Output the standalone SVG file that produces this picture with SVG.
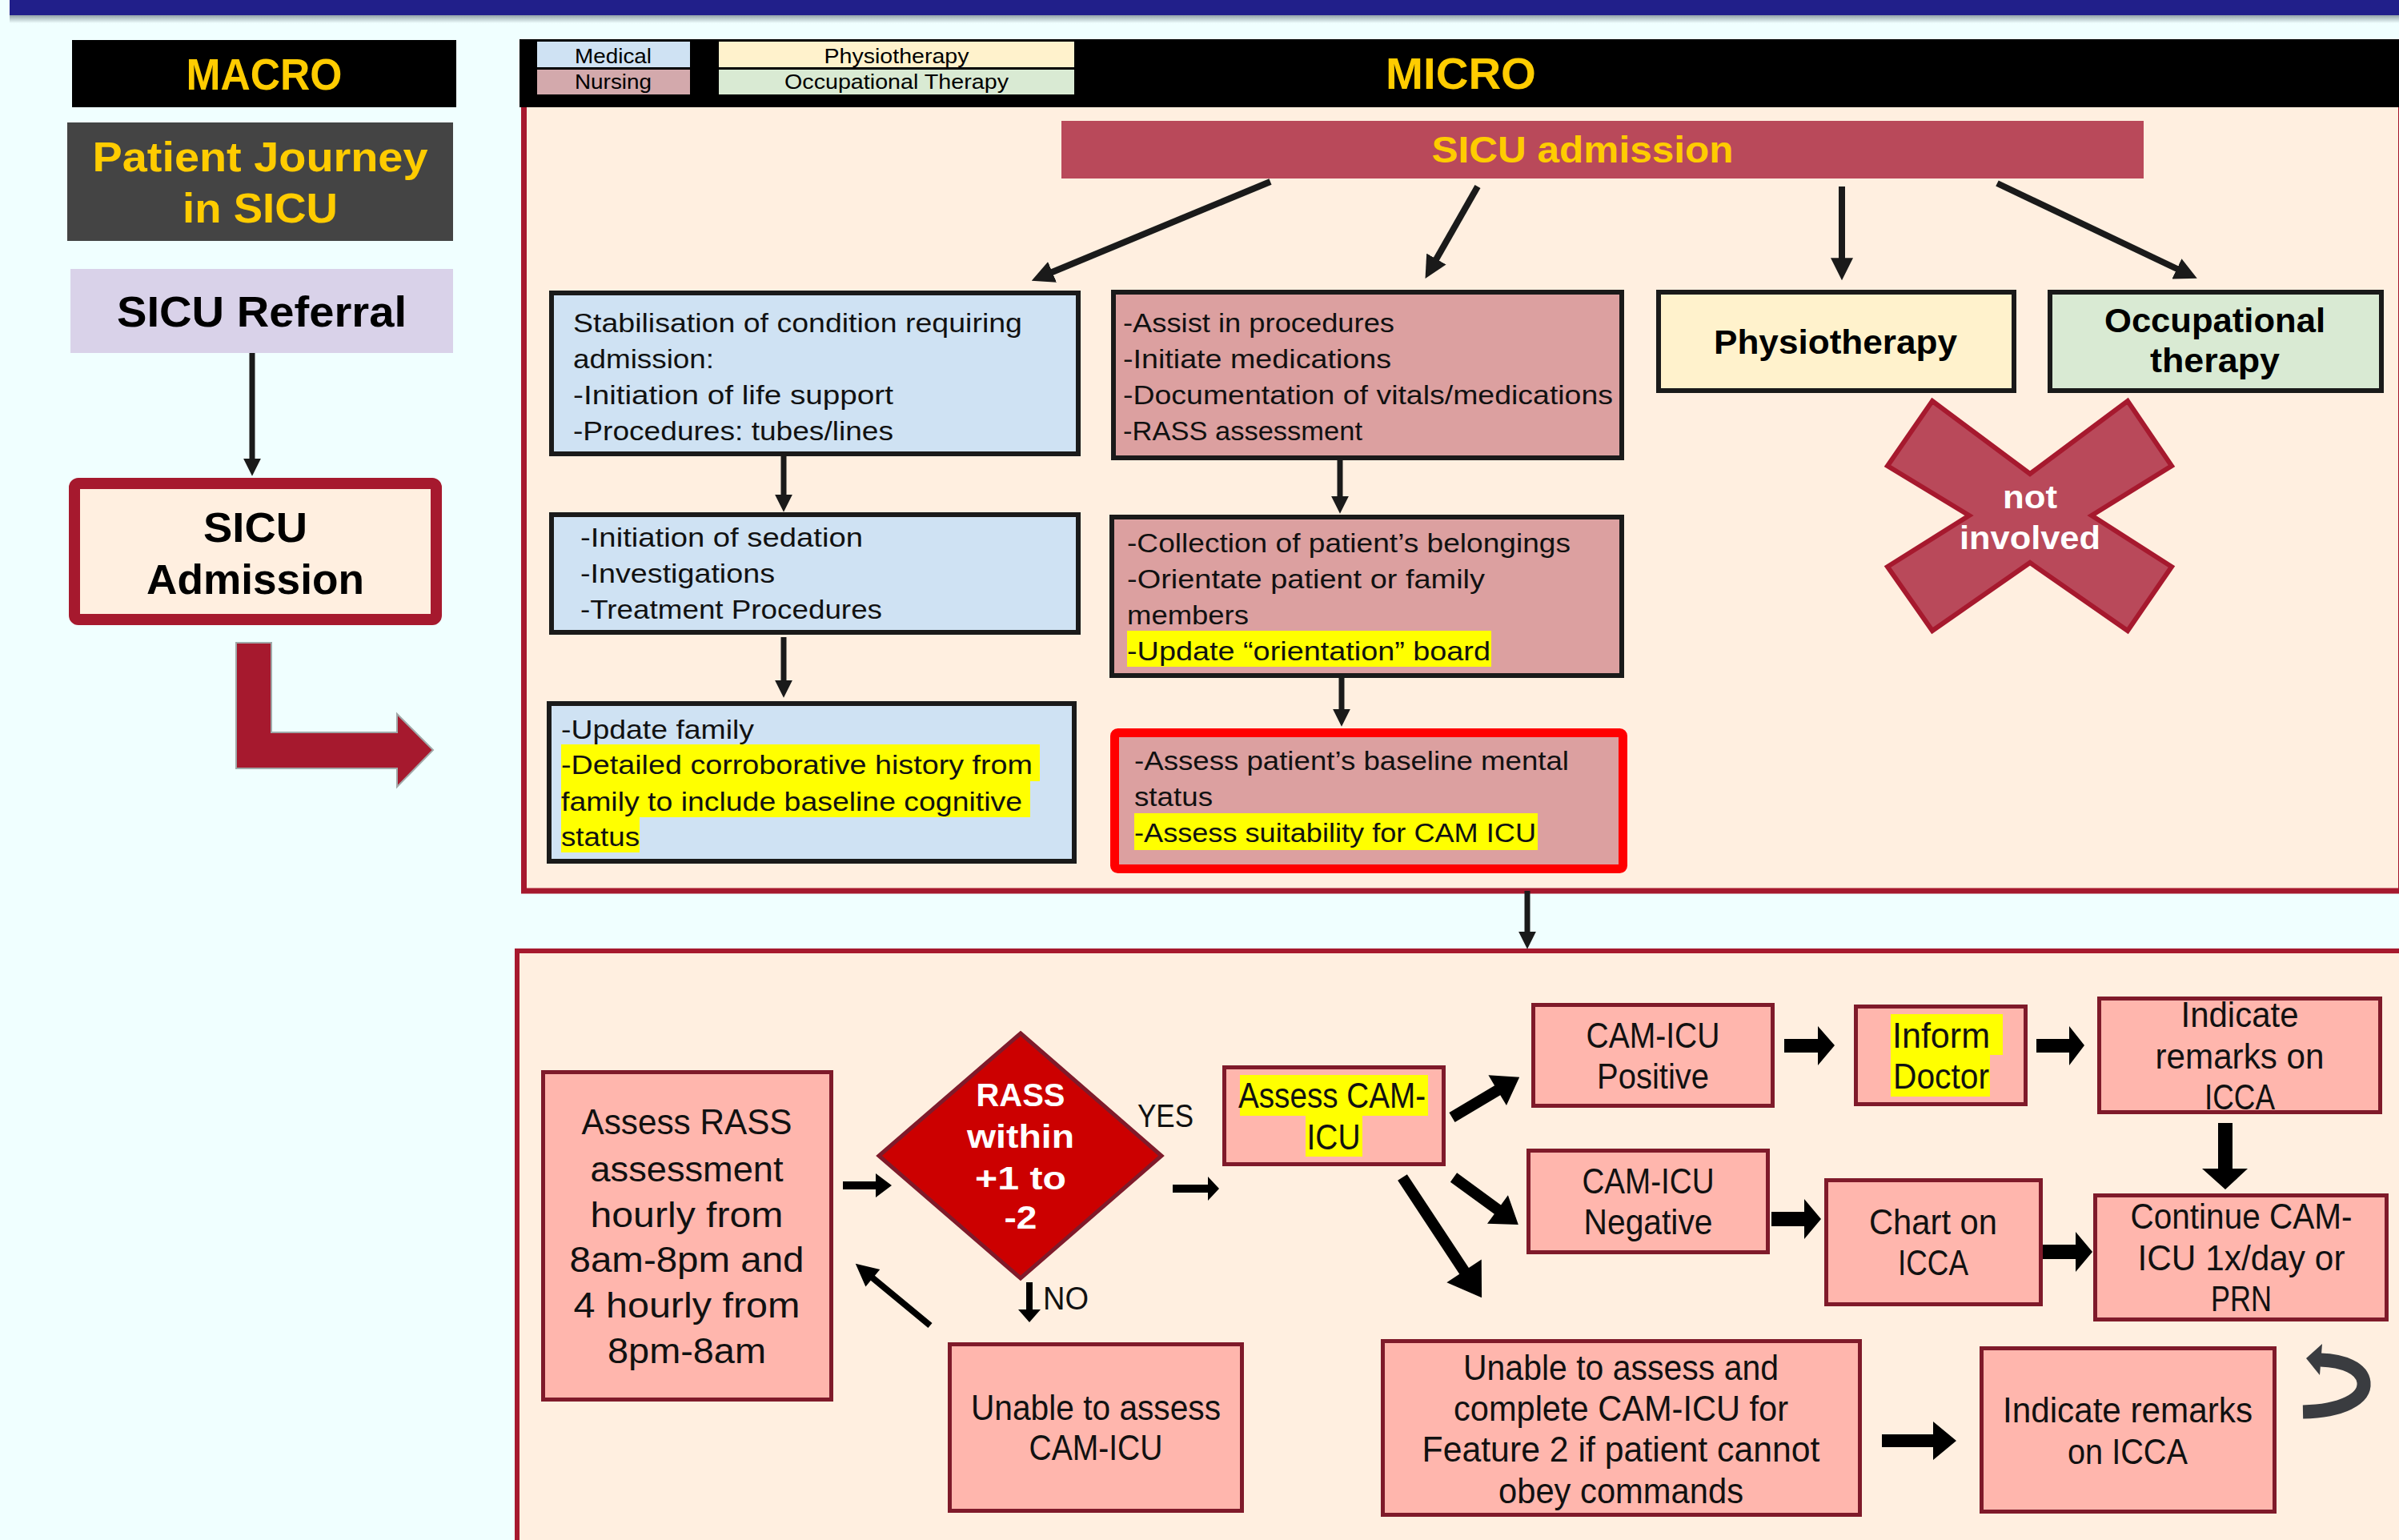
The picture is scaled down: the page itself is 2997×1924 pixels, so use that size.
<svg xmlns="http://www.w3.org/2000/svg" width="2997" height="1924" viewBox="0 0 2997 1924">
<defs>
<linearGradient id="shadow" x1="0" y1="0" x2="0" y2="1">
<stop offset="0" stop-color="#7f8f95"/>
<stop offset="1" stop-color="#F0FFFF"/>
</linearGradient>
<marker id="ah" viewBox="0 0 10 10" refX="1" refY="5" markerWidth="22" markerHeight="22" markerUnits="userSpaceOnUse" orient="auto">
<path d="M0,0 L10,5 L0,10 z" fill="#1a1a1a"/>
</marker>
<marker id="ahb" viewBox="0 0 10 10" refX="1" refY="5" markerWidth="28" markerHeight="28" markerUnits="userSpaceOnUse" orient="auto">
<path d="M0,0 L10,5 L0,10 z" fill="#1a1a1a"/>
</marker>
<style>
text{font-family:"Liberation Sans",Arial,sans-serif}
.b{font-weight:bold}
.gold{fill:#FFCC00}
.w{fill:#ffffff}
.k{fill:#111111}
.s25{font-size:25px}
.s33{font-size:33px}
.s45{font-size:45px}
.s40{font-size:40px}
.m{text-anchor:middle}
.med{fill:#CFE2F3;stroke:#1a1a1a;stroke-width:6}
.nur{fill:#DCA0A0;stroke:#1a1a1a;stroke-width:6}
.lo{fill:#FFB6AD;stroke:#7F1A2A;stroke-width:5}
.hl{fill:#FFFF00}
.ln{stroke:#1a1a1a;stroke-width:7;fill:none}
.lnb{stroke:#1a1a1a;stroke-width:8;fill:none}
.blk{fill:#000000}
</style>
</defs>

<rect x="0" y="0" width="2997" height="1924" fill="#F0FFFF"/>
<rect x="12" y="17" width="2985" height="12" fill="url(#shadow)"/>
<rect x="12" y="0" width="2985" height="19" fill="#211F8A"/>

<!-- MACRO column -->
<g id="macro-header">
<rect x="90" y="50" width="480" height="84" fill="#000"/>
<text x="330" y="112" class="b gold m" font-size="56" textLength="195" lengthAdjust="spacingAndGlyphs">MACRO</text>
</g>
<g id="patient-journey">
<rect x="84" y="153" width="482" height="148" fill="#444444"/>
<text x="325" y="214" class="b gold m" font-size="52" textLength="419" lengthAdjust="spacingAndGlyphs">Patient Journey</text>
<text x="325" y="278" class="b gold m" font-size="52" textLength="194" lengthAdjust="spacingAndGlyphs">in SICU</text>
</g>
<g id="sicu-referral">
<rect x="88" y="336" width="478" height="105" fill="#D9D2E9"/>
<text x="327" y="408" class="b m" font-size="53" fill="#000" textLength="362" lengthAdjust="spacingAndGlyphs">SICU Referral</text>
</g>
<g id="sicu-admission-macro">
<rect x="93" y="604" width="452" height="170" rx="5" fill="#FFEFE0" stroke="#A6192E" stroke-width="14"/>
<text x="319" y="677" class="b m" font-size="51" fill="#000" textLength="130" lengthAdjust="spacingAndGlyphs">SICU</text>
<text x="319" y="742" class="b m" font-size="51" fill="#000" textLength="272" lengthAdjust="spacingAndGlyphs">Admission</text>
</g>
<g id="bent-arrow">
<polygon points="295,803 339,803 339,915 496,915 496,892 541,937 496,983 496,960 295,960" fill="#A6192E" stroke="#a0a8a8" stroke-width="2"/>
</g>

<!-- MICRO panel -->
<g id="micro-panel">
<rect x="654.5" y="130" width="2345" height="983" fill="#FFEFE0" stroke="#A6192E" stroke-width="7"/>
<rect x="649" y="49" width="2348" height="85" fill="#000"/>
<text x="1825" y="111" class="b gold m" font-size="55" textLength="188" lengthAdjust="spacingAndGlyphs">MICRO</text>
</g>
<g id="legend">
<rect x="671" y="52" width="191" height="32" fill="#CFE2F3"/>
<rect x="671" y="87" width="191" height="31" fill="#D3A9AC"/>
<rect x="898" y="52" width="444" height="32" fill="#FFF2CC"/>
<rect x="898" y="87" width="444" height="31" fill="#D9EAD3"/>
<text x="766" y="79" class="s25 m" fill="#000" textLength="96" lengthAdjust="spacingAndGlyphs">Medical</text>
<text x="766" y="111" class="s25 m" fill="#000" textLength="96" lengthAdjust="spacingAndGlyphs">Nursing</text>
<text x="1120" y="79" class="s25 m" fill="#000" textLength="181" lengthAdjust="spacingAndGlyphs">Physiotherapy</text>
<text x="1120" y="111" class="s25 m" fill="#000" textLength="280" lengthAdjust="spacingAndGlyphs">Occupational Therapy</text>
</g>

<g id="sicu-admission-bar">
<rect x="1326" y="151" width="1352" height="72" fill="#B9495A"/>
<text x="1977" y="203" class="b gold m" font-size="46" textLength="377" lengthAdjust="spacingAndGlyphs">SICU admission</text>
</g>

<g id="med-1">
<rect x="689" y="366" width="658" height="201" class="med"/>
<text x="716" y="415" class="s33 k" textLength="561" lengthAdjust="spacingAndGlyphs">Stabilisation of condition requiring</text>
<text x="716" y="460" class="s33 k" textLength="176" lengthAdjust="spacingAndGlyphs">admission:</text>
<text x="716" y="505" class="s33 k" textLength="400" lengthAdjust="spacingAndGlyphs">-Initiation of life support</text>
<text x="716" y="550" class="s33 k" textLength="400" lengthAdjust="spacingAndGlyphs">-Procedures: tubes/lines</text>
</g>
<g id="med-2">
<rect x="689" y="643" width="658" height="147" class="med"/>
<text x="725" y="683" class="s33 k" textLength="353" lengthAdjust="spacingAndGlyphs">-Initiation of sedation</text>
<text x="725" y="728" class="s33 k" textLength="243" lengthAdjust="spacingAndGlyphs">-Investigations</text>
<text x="725" y="773" class="s33 k" textLength="377" lengthAdjust="spacingAndGlyphs">-Treatment Procedures</text>
</g>
<g id="med-3">
<rect x="686" y="879" width="656" height="197" class="med"/>
<rect x="701" y="930" width="598" height="46" class="hl"/>
<rect x="701" y="976" width="586" height="45" class="hl"/>
<rect x="701" y="1021" width="98" height="44" class="hl"/>
<text x="701" y="923" class="s33 k" textLength="241" lengthAdjust="spacingAndGlyphs">-Update family</text>
<text x="701" y="967" class="s33 k" textLength="589" lengthAdjust="spacingAndGlyphs">-Detailed corroborative history from</text>
<text x="701" y="1013" class="s33 k" textLength="576" lengthAdjust="spacingAndGlyphs">family to include baseline cognitive</text>
<text x="701" y="1057" class="s33 k" textLength="98" lengthAdjust="spacingAndGlyphs">status</text>
</g>

<g id="nur-1">
<rect x="1391" y="365" width="635" height="207" class="nur"/>
<text x="1403" y="415" class="s33 k" textLength="339" lengthAdjust="spacingAndGlyphs">-Assist in procedures</text>
<text x="1403" y="460" class="s33 k" textLength="335" lengthAdjust="spacingAndGlyphs">-Initiate medications</text>
<text x="1403" y="505" class="s33 k" textLength="612" lengthAdjust="spacingAndGlyphs">-Documentation of vitals/medications</text>
<text x="1403" y="550" class="s33 k" textLength="299" lengthAdjust="spacingAndGlyphs">-RASS assessment</text>
</g>
<g id="nur-2">
<rect x="1389" y="646" width="637" height="198" class="nur"/>
<rect x="1408" y="788" width="455" height="45" class="hl"/>
<text x="1408" y="690" class="s33 k" textLength="554" lengthAdjust="spacingAndGlyphs">-Collection of patient’s belongings</text>
<text x="1408" y="735" class="s33 k" textLength="447" lengthAdjust="spacingAndGlyphs">-Orientate patient or family</text>
<text x="1408" y="780" class="s33 k" textLength="152" lengthAdjust="spacingAndGlyphs">members</text>
<text x="1408" y="825" class="s33 k" textLength="454" lengthAdjust="spacingAndGlyphs">-Update “orientation” board</text>
</g>
<g id="nur-3">
<rect x="1392.5" y="915.5" width="635" height="170" rx="4" fill="#DCA0A0" stroke="#FF0000" stroke-width="11"/>
<rect x="1417" y="1016" width="504" height="46" class="hl"/>
<text x="1417" y="962" class="s33 k" textLength="543" lengthAdjust="spacingAndGlyphs">-Assess patient’s baseline mental</text>
<text x="1417" y="1007" class="s33 k" textLength="98" lengthAdjust="spacingAndGlyphs">status</text>
<text x="1417" y="1052" class="s33 k" textLength="502" lengthAdjust="spacingAndGlyphs">-Assess suitability for CAM ICU</text>
</g>

<g id="physio">
<rect x="2072" y="365" width="444" height="123" fill="#FFF2CC" stroke="#1a1a1a" stroke-width="6"/>
<text x="2293" y="442" class="b m" font-size="42" fill="#000" textLength="304" lengthAdjust="spacingAndGlyphs">Physiotherapy</text>
</g>
<g id="ot">
<rect x="2561" y="365" width="414" height="123" fill="#D9EAD3" stroke="#1a1a1a" stroke-width="6"/>
<text x="2767" y="415" class="b m" font-size="42" fill="#000" textLength="276" lengthAdjust="spacingAndGlyphs">Occupational</text>
<text x="2767" y="465" class="b m" font-size="42" fill="#000" textLength="162" lengthAdjust="spacingAndGlyphs">therapy</text>
</g>
<g id="not-involved">
<polygon points="2414,501 2536,592 2658,501 2713,582 2613,644 2713,708 2658,788 2536,703 2414,788 2358,708 2460,644 2358,582" fill="#B9495A" stroke="#A6192E" stroke-width="6" stroke-linejoin="miter"/>
<text x="2536" y="635" class="b w m" font-size="40" textLength="68" lengthAdjust="spacingAndGlyphs">not</text>
<text x="2536" y="686" class="b w m" font-size="40" textLength="176" lengthAdjust="spacingAndGlyphs">involved</text>
</g>

<!-- lower panel -->
<g id="cam-panel">
<rect x="646" y="1188" width="2400" height="800" fill="#FFEFE0" stroke="#A6192E" stroke-width="6"/>
</g>

<g id="assess-rass">
<rect x="678.5" y="1339.5" width="360" height="409" class="lo"/>
<text x="858" y="1417" class="s45 k m" textLength="263" lengthAdjust="spacingAndGlyphs">Assess RASS</text>
<text x="858" y="1476" class="s45 k m" textLength="241" lengthAdjust="spacingAndGlyphs">assessment</text>
<text x="858" y="1533" class="s45 k m" textLength="241" lengthAdjust="spacingAndGlyphs">hourly from</text>
<text x="858" y="1589" class="s45 k m" textLength="293" lengthAdjust="spacingAndGlyphs">8am-8pm and</text>
<text x="858" y="1646" class="s45 k m" textLength="283" lengthAdjust="spacingAndGlyphs">4 hourly from</text>
<text x="858" y="1703" class="s45 k m" textLength="198" lengthAdjust="spacingAndGlyphs">8pm-8am</text>
</g>
<g id="rass-decision">
<polygon points="1275,1291 1451,1444 1275,1597 1098,1444" fill="#CC0000" stroke="#7F1A2A" stroke-width="5"/>
<text x="1275" y="1382" class="s40 b w m" textLength="111" lengthAdjust="spacingAndGlyphs">RASS</text>
<text x="1275" y="1434" class="s40 b w m" textLength="134" lengthAdjust="spacingAndGlyphs">within</text>
<text x="1275" y="1486" class="s40 b w m" textLength="114" lengthAdjust="spacingAndGlyphs">+1 to</text>
<text x="1275" y="1535" class="s40 b w m" textLength="41" lengthAdjust="spacingAndGlyphs">-2</text>
</g>
<g id="unable-cam">
<rect x="1186.5" y="1679.5" width="365" height="208" class="lo"/>
<text x="1369" y="1774" class="s45 k m" textLength="312" lengthAdjust="spacingAndGlyphs">Unable to assess</text>
<text x="1369" y="1824" class="s45 k m" textLength="167" lengthAdjust="spacingAndGlyphs">CAM-ICU</text>
</g>
<g id="assess-cam">
<rect x="1529.5" y="1333.5" width="274" height="121" class="lo"/>
<rect x="1549" y="1343" width="235" height="51" class="hl"/>
<rect x="1631" y="1394" width="71" height="51" class="hl"/>
<text x="1664" y="1384" class="s45 k m" textLength="234" lengthAdjust="spacingAndGlyphs">Assess CAM-</text>
<text x="1666" y="1436" class="s45 k m" textLength="67" lengthAdjust="spacingAndGlyphs">ICU</text>
</g>
<g id="cam-positive">
<rect x="1915.5" y="1255.5" width="299" height="126" class="lo"/>
<text x="2065" y="1309" class="s45 k m" textLength="167" lengthAdjust="spacingAndGlyphs">CAM-ICU</text>
<text x="2065" y="1360" class="s45 k m" textLength="140" lengthAdjust="spacingAndGlyphs">Positive</text>
</g>
<g id="inform-doctor">
<rect x="2318.5" y="1257.5" width="212" height="122" class="lo"/>
<rect x="2362" y="1267" width="140" height="51" class="hl"/>
<rect x="2362" y="1318" width="124" height="52" class="hl"/>
<text x="2425" y="1309" class="s45 k m" textLength="122" lengthAdjust="spacingAndGlyphs">Inform</text>
<text x="2425" y="1360" class="s45 k m" textLength="120" lengthAdjust="spacingAndGlyphs">Doctor</text>
</g>
<g id="indicate-top">
<rect x="2622.5" y="1247.5" width="351" height="142" class="lo"/>
<text x="2798" y="1283" class="s45 k m" textLength="147" lengthAdjust="spacingAndGlyphs">Indicate</text>
<text x="2798" y="1335" class="s45 k m" textLength="211" lengthAdjust="spacingAndGlyphs">remarks on</text>
<text x="2798" y="1386" class="s45 k m" textLength="88" lengthAdjust="spacingAndGlyphs">ICCA</text>
</g>
<g id="cam-negative">
<rect x="1909.5" y="1437.5" width="299" height="127" class="lo"/>
<text x="2059" y="1491" class="s45 k m" textLength="165" lengthAdjust="spacingAndGlyphs">CAM-ICU</text>
<text x="2059" y="1542" class="s45 k m" textLength="161" lengthAdjust="spacingAndGlyphs">Negative</text>
</g>
<g id="chart-icca">
<rect x="2281.5" y="1474.5" width="268" height="155" class="lo"/>
<text x="2415" y="1542" class="s45 k m" textLength="160" lengthAdjust="spacingAndGlyphs">Chart on</text>
<text x="2415" y="1593" class="s45 k m" textLength="88" lengthAdjust="spacingAndGlyphs">ICCA</text>
</g>
<g id="continue-cam">
<rect x="2617.5" y="1493.5" width="364" height="155" class="lo"/>
<text x="2800" y="1535" class="s45 k m" textLength="277" lengthAdjust="spacingAndGlyphs">Continue CAM-</text>
<text x="2800" y="1587" class="s45 k m" textLength="259" lengthAdjust="spacingAndGlyphs">ICU 1x/day or</text>
<text x="2800" y="1638" class="s45 k m" textLength="76" lengthAdjust="spacingAndGlyphs">PRN</text>
</g>
<g id="unable-feature2">
<rect x="1727.5" y="1675.5" width="596" height="217" class="lo"/>
<text x="2025" y="1724" class="s45 k m" textLength="394" lengthAdjust="spacingAndGlyphs">Unable to assess and</text>
<text x="2025" y="1775" class="s45 k m" textLength="418" lengthAdjust="spacingAndGlyphs">complete CAM-ICU for</text>
<text x="2025" y="1826" class="s45 k m" textLength="497" lengthAdjust="spacingAndGlyphs">Feature 2 if patient cannot</text>
<text x="2025" y="1878" class="s45 k m" textLength="306" lengthAdjust="spacingAndGlyphs">obey commands</text>
</g>
<g id="indicate-bottom">
<rect x="2475.5" y="1684.5" width="366" height="204" class="lo"/>
<text x="2658" y="1777" class="s45 k m" textLength="312" lengthAdjust="spacingAndGlyphs">Indicate remarks</text>
<text x="2658" y="1829" class="s45 k m" textLength="150" lengthAdjust="spacingAndGlyphs">on ICCA</text>
</g>

<!-- connectors -->
<g id="connectors">
<line x1="315" y1="441" x2="315" y2="575" class="ln" marker-end="url(#ah)"/>
<line x1="979" y1="570" x2="979" y2="620" class="ln" marker-end="url(#ah)"/>
<line x1="979" y1="796" x2="979" y2="852" class="ln" marker-end="url(#ah)"/>
<line x1="1674" y1="575" x2="1674" y2="622" class="ln" marker-end="url(#ah)"/>
<line x1="1676" y1="847" x2="1676" y2="888" class="ln" marker-end="url(#ah)"/>
<line x1="1908" y1="1113" x2="1908" y2="1166" class="ln" marker-end="url(#ah)"/>
<line x1="1587" y1="227" x2="1312" y2="341" class="lnb" marker-end="url(#ahb)"/>
<line x1="1846" y1="233" x2="1793" y2="326" class="lnb" marker-end="url(#ahb)"/>
<line x1="2301" y1="233" x2="2301" y2="325" class="lnb" marker-end="url(#ahb)"/>
<line x1="2495" y1="229" x2="2722" y2="337" class="lnb" marker-end="url(#ahb)"/>

<polygon class="blk" points="1053,1476 1094,1476 1094,1466 1114,1481 1094,1496 1094,1486 1053,1486"/>
<polygon class="blk" points="1465,1480 1509,1480 1509,1470 1523,1485 1509,1500 1509,1490 1465,1490"/>
<polygon class="blk" points="1282,1602 1290,1602 1290,1636 1300,1636 1286,1652 1272,1636 1282,1636"/>
<text x="1421" y="1408" class="s40 k" textLength="70" lengthAdjust="spacingAndGlyphs">YES</text>
<text x="1303" y="1636" class="s40 k" textLength="57" lengthAdjust="spacingAndGlyphs">NO</text>
<g transform="translate(1162 1656) rotate(-140.4)"><polygon class="blk" points="0,-4 93,-4 93,-14 121,0 93,14 93,4 0,4"/></g>
<g transform="translate(1814 1396) rotate(-30.8)"><polygon class="blk" points="0,-7 66,-7 66,-22 98,0 66,22 66,7 0,7"/></g>
<g transform="translate(1816 1471) rotate(36.1)"><polygon class="blk" points="0,-7 68,-7 68,-22 100,0 68,22 68,7 0,7"/></g>
<g transform="translate(1752 1471) rotate(56.6)"><polygon class="blk" points="0,-7 140,-7 140,-26 180,0 140,26 140,7 0,7"/></g>
<polygon class="blk" points="2229,1298 2271,1298 2271,1282 2292,1306 2271,1331 2271,1315 2229,1315"/>
<polygon class="blk" points="2544,1298 2585,1298 2585,1282 2604,1306 2585,1331 2585,1315 2544,1315"/>
<polygon class="blk" points="2213,1514 2254,1514 2254,1498 2275,1523 2254,1548 2254,1532 2213,1532"/>
<polygon class="blk" points="2552,1555 2593,1555 2593,1539 2614,1564 2593,1589 2593,1573 2552,1573"/>
<polygon class="blk" points="2771,1403 2789,1403 2789,1460 2808,1460 2780,1486 2751,1460 2771,1460"/>
<polygon class="blk" points="2351,1792 2415,1792 2415,1776 2444,1800 2415,1824 2415,1808 2351,1808"/>
<path d="M2877,1764 C2925,1763 2955,1748 2953,1727 C2951,1709 2927,1700 2899,1699" fill="none" stroke="#3A3C40" stroke-width="17"/>
<polygon points="2881,1697 2901,1679 2898,1718" fill="#3A3C40"/>
</g>
</svg>
